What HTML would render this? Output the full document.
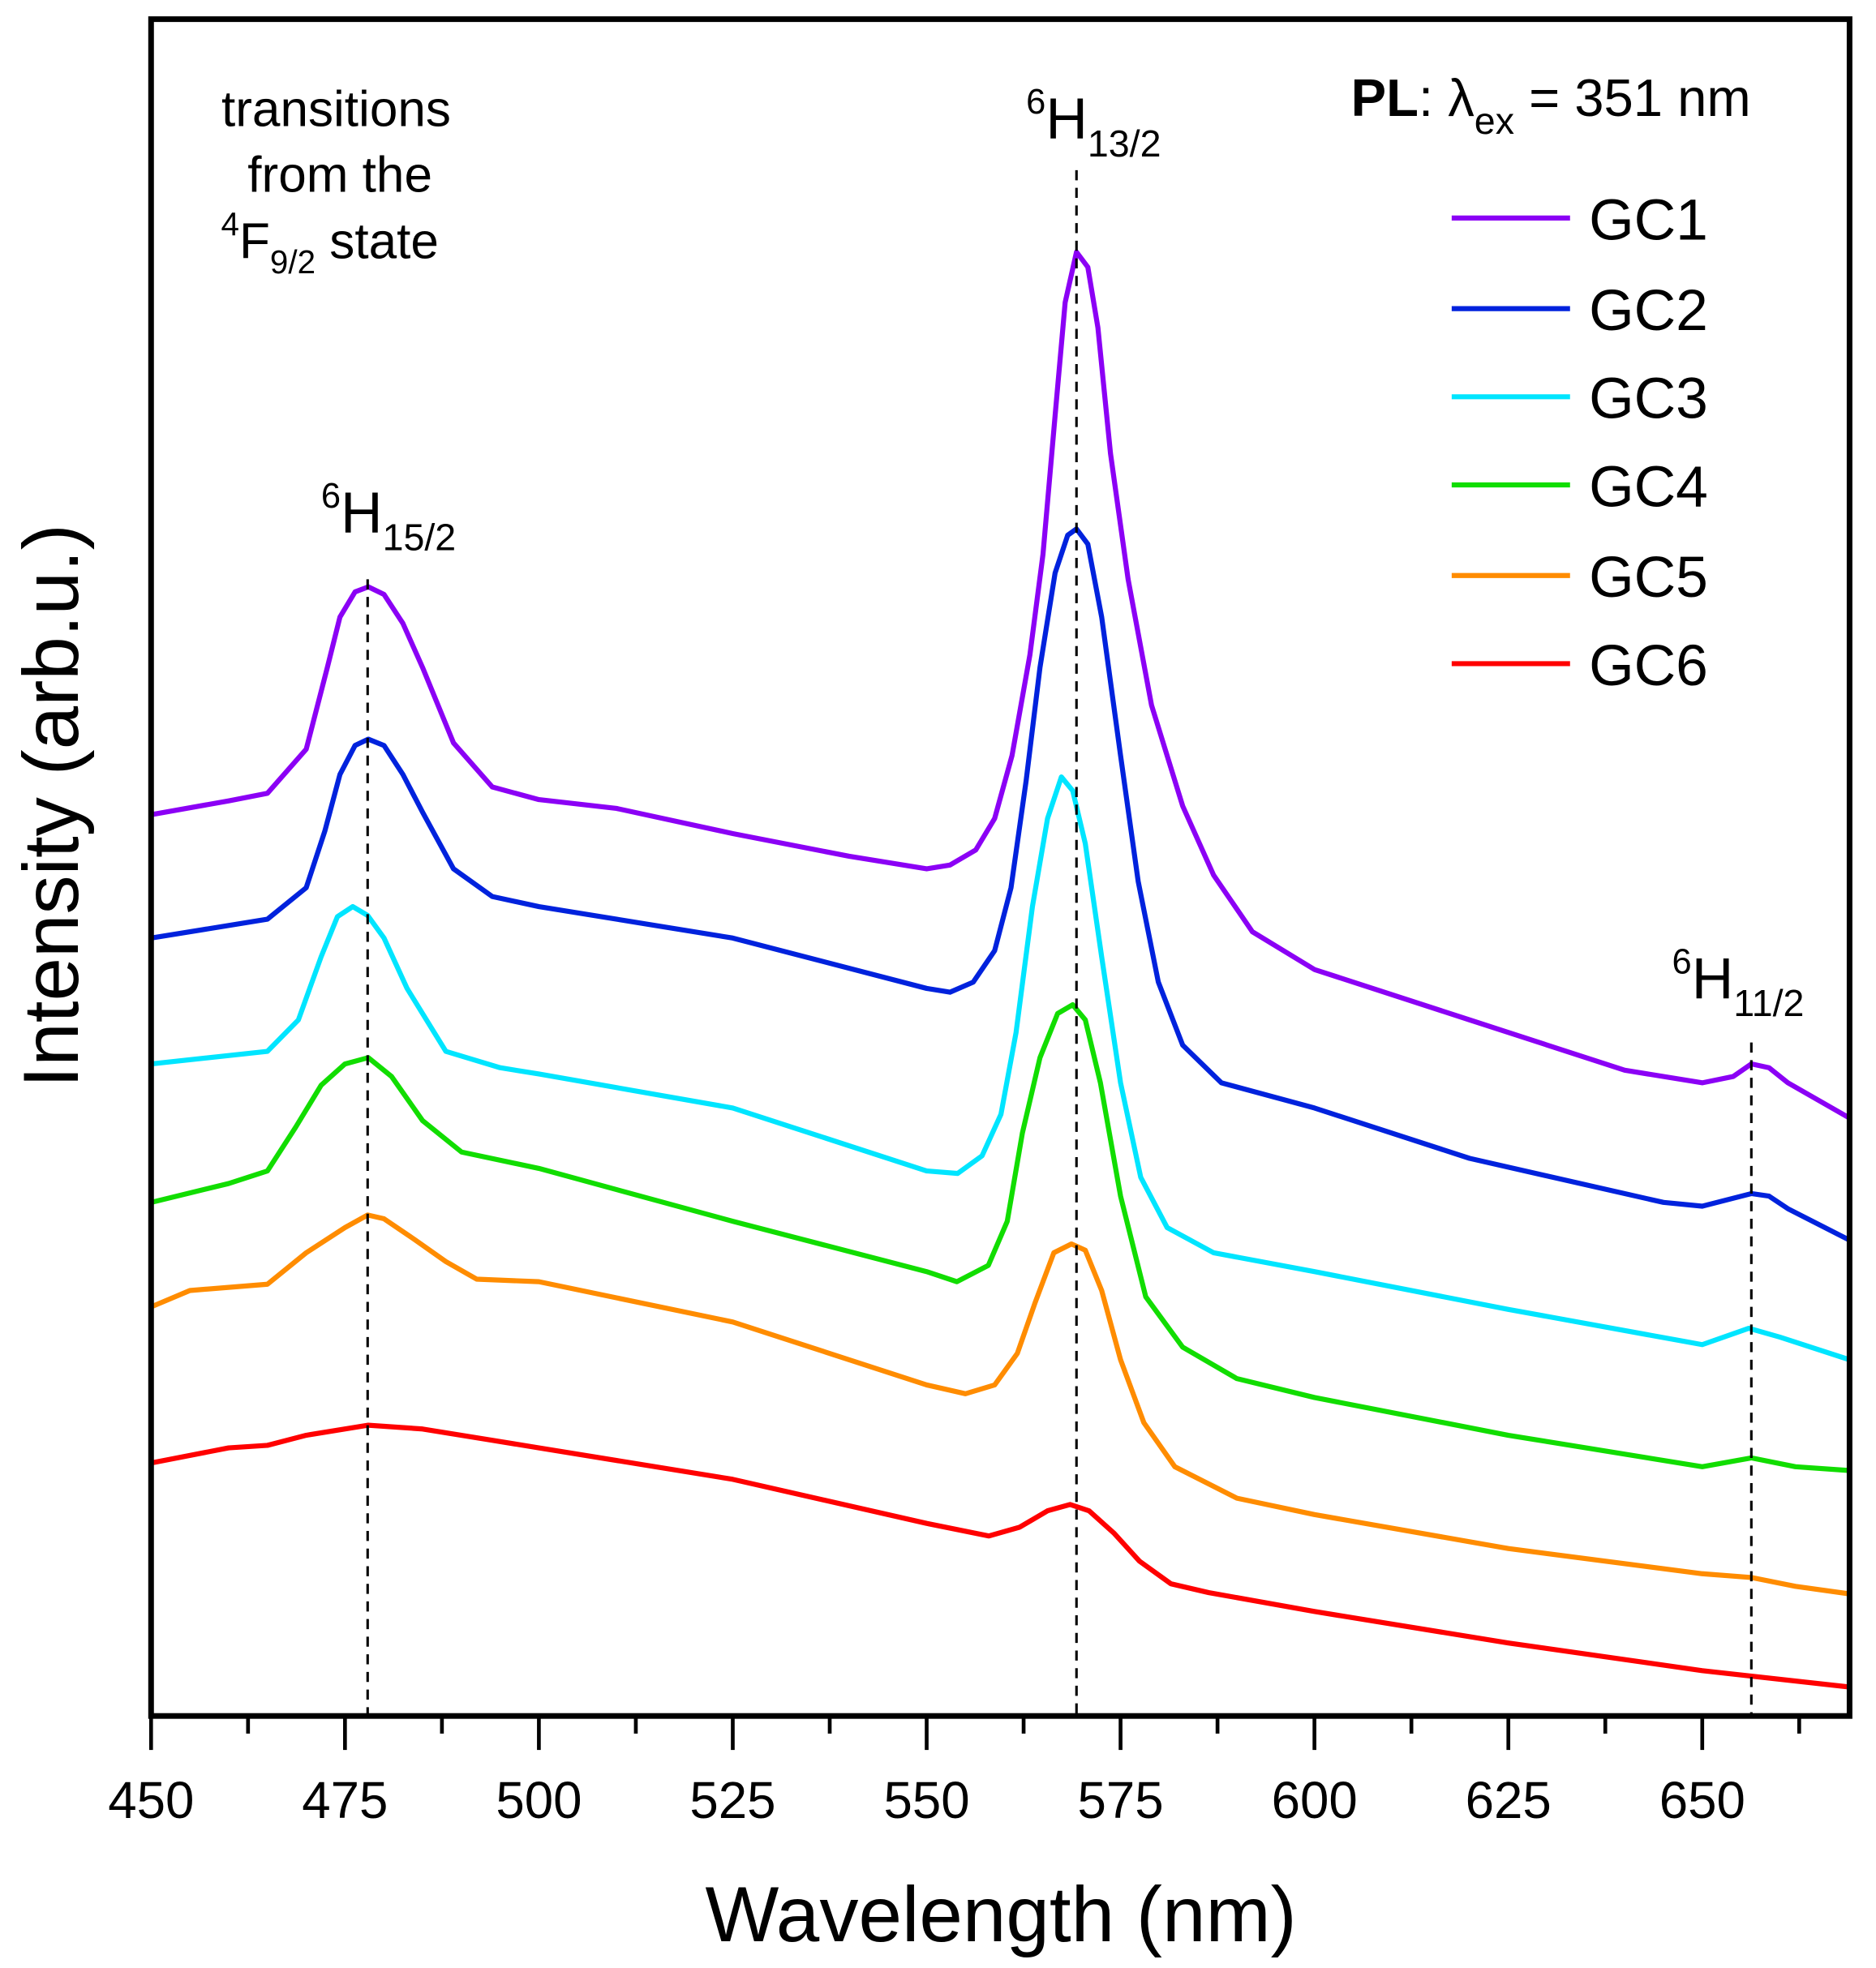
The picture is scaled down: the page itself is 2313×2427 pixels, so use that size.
<!DOCTYPE html>
<html><head><meta charset="utf-8"><style>html,body{margin:0;padding:0;background:#fff}svg{display:block}</style></head>
<body>
<svg width="2313" height="2427" viewBox="0 0 1490 1563" xmlns="http://www.w3.org/2000/svg" font-family="Liberation Sans, Arial, sans-serif">
<rect width="1490" height="1563" fill="#fff"/>
<g fill="none" stroke-width="4" stroke-linejoin="round" stroke-linecap="round">
<polyline stroke="#8B00F5" points="120,647 181.6,636 212.4,630 243.2,595 260,530 270,490 282,470 292.5,466 305,472 320,495 335.6,530 360.2,590 391,625 428,635 489.6,642 582,662 674.4,680 736,690 754.5,687 775,675 790,650 803.8,600 818,520 828.4,440 838,330 846,240 855,200 864,212 872,260 882,360 896,460 914.6,560 939.3,640 963.9,695 994.7,740 1044,770 1167.2,810 1290.4,850 1352,860 1376.6,855 1391,845 1405,848 1420,860 1469,888"/>
<polyline stroke="#0022DD" points="120,745 212.4,730 243.2,705 258,660 270,615 282,592 292.5,587 305,592 320,615 335.6,645 360.2,690 391,712 428,720 582,745 736,785 754.5,788 773,780 790,755 803,705 815,620 826,530 838,455 848,425 855,420 864,432 875,490 890,600 904,700 920,780 939.3,830 970.1,860 1044,880 1167.2,920 1321.2,955 1352,958 1391,948 1405,950 1420,960 1469,985"/>
<polyline stroke="#00E5FF" points="120,845 212.4,835 237,810 255,760 268,728 280.2,720 292,727 305,745 323.3,785 354.1,835 397.2,848 428,853 582,880 736,930 760.6,932 780,918 795,885 807,820 820,720 832,650 843,617 852,628 862,670 875,760 890,860 906,935 927,975 963.9,995 1044,1010 1198,1040 1352,1068 1389,1055 1413.6,1062 1469,1080"/>
<polyline stroke="#11DD00" points="120,955 181.6,940 212.4,930 235,895 255,862 274,845 292.5,840 311,855 335.6,890 366.6,915 428,928 582,970 736,1010 760,1018 785,1005 800,970 812,900 826,840 840,805 852,798 862,810 874,860 890,950 910,1030 939.3,1070 982.4,1095 1044,1110 1198,1140 1352,1165 1391,1158 1426,1165 1469,1168"/>
<polyline stroke="#FF8C00" points="120,1038 150.8,1025 212.4,1020 243.2,995 274,975 292,965 305,968 330,985 354.1,1002 378.7,1016 428,1018 582,1050 736,1100 766.8,1107 790,1100 808,1075 822,1035 837,995 851,988 862,993 875,1025 890,1080 908.5,1130 933.1,1165 982.4,1190 1044,1203 1198,1230 1352,1250 1391,1253 1426,1260 1469,1266"/>
<polyline stroke="#FF0000" points="120,1162 181.6,1150 212.4,1148 243.2,1140 292.5,1132 335.6,1135 428,1150 582,1175 736,1210 785.3,1220 809.9,1213 832,1200 850,1195 865,1200 885,1218 905,1240 930,1258 960,1265 1044,1280 1198,1305 1352,1327 1469,1340"/>
</g>
<g stroke="#000" stroke-width="2" stroke-dasharray="8,6">
<line x1="292" y1="460" x2="292" y2="1363"/>
<line x1="855" y1="135" x2="855" y2="1363"/>
<line x1="1391" y1="828" x2="1391" y2="1363"/>
</g>
<rect x="120" y="15" width="1349" height="1348" fill="none" stroke="#000" stroke-width="4.5"/>
<g stroke="#000" stroke-width="3">
<line x1="120" y1="1363" x2="120" y2="1390"/><line x1="274" y1="1363" x2="274" y2="1390"/><line x1="428" y1="1363" x2="428" y2="1390"/><line x1="582" y1="1363" x2="582" y2="1390"/><line x1="736" y1="1363" x2="736" y2="1390"/><line x1="890" y1="1363" x2="890" y2="1390"/><line x1="1044" y1="1363" x2="1044" y2="1390"/><line x1="1198" y1="1363" x2="1198" y2="1390"/><line x1="1352" y1="1363" x2="1352" y2="1390"/>
<line x1="197" y1="1363" x2="197" y2="1377"/><line x1="351" y1="1363" x2="351" y2="1377"/><line x1="505" y1="1363" x2="505" y2="1377"/><line x1="659" y1="1363" x2="659" y2="1377"/><line x1="813" y1="1363" x2="813" y2="1377"/><line x1="967" y1="1363" x2="967" y2="1377"/><line x1="1121" y1="1363" x2="1121" y2="1377"/><line x1="1275" y1="1363" x2="1275" y2="1377"/><line x1="1429" y1="1363" x2="1429" y2="1377"/>
</g>
<g font-size="41" text-anchor="middle" fill="#000">
<text x="120" y="1444">450</text><text x="274" y="1444">475</text><text x="428" y="1444">500</text>
<text x="582" y="1444">525</text><text x="736" y="1444">550</text><text x="890" y="1444">575</text>
<text x="1044" y="1444">600</text><text x="1198" y="1444">625</text><text x="1352" y="1444">650</text>
</g>
<text x="795" y="1542" font-size="62" text-anchor="middle">Wavelength (nm)</text>
<text transform="translate(62,640) rotate(-90)" font-size="62" text-anchor="middle">Intensity (arb.u.)</text>
<g font-size="40" text-anchor="middle">
<text x="267" y="100">transitions</text>
<text x="270" y="152">from the</text>
<text x="262" y="205"><tspan font-size="26" dy="-18">4</tspan><tspan dy="18">F</tspan><tspan font-size="26" dy="12">9/2</tspan><tspan dy="-12"> state</tspan></text>
</g>
<g font-size="46">
<text x="255" y="423"><tspan font-size="28" dy="-20">6</tspan><tspan dy="20">H</tspan><tspan font-size="30" dy="14">15/2</tspan></text>
<text x="815" y="110"><tspan font-size="28" dy="-20">6</tspan><tspan dy="20">H</tspan><tspan font-size="30" dy="14">13/2</tspan></text>
<text x="1328" y="793"><tspan font-size="28" dy="-20">6</tspan><tspan dy="20">H</tspan><tspan font-size="30" dy="14">11/2</tspan></text>
</g>
<text x="1073" y="92" font-size="42"><tspan font-weight="bold">PL</tspan>: λ<tspan font-size="30" dy="14">ex</tspan><tspan dy="-14"> = 351 nm</tspan></text>
<g stroke-width="4">
<line x1="1153" y1="173" x2="1247" y2="173" stroke="#8B00F5"/>
<line x1="1153" y1="245" x2="1247" y2="245" stroke="#0022DD"/>
<line x1="1153" y1="315" x2="1247" y2="315" stroke="#00E5FF"/>
<line x1="1153" y1="385" x2="1247" y2="385" stroke="#11DD00"/>
<line x1="1153" y1="457" x2="1247" y2="457" stroke="#FF8C00"/>
<line x1="1153" y1="527" x2="1247" y2="527" stroke="#FF0000"/>
</g>
<g font-size="46">
<text x="1262" y="190">GC1</text><text x="1262" y="262">GC2</text><text x="1262" y="332">GC3</text>
<text x="1262" y="402">GC4</text><text x="1262" y="474">GC5</text><text x="1262" y="544">GC6</text>
</g>
</svg>
</body></html>
